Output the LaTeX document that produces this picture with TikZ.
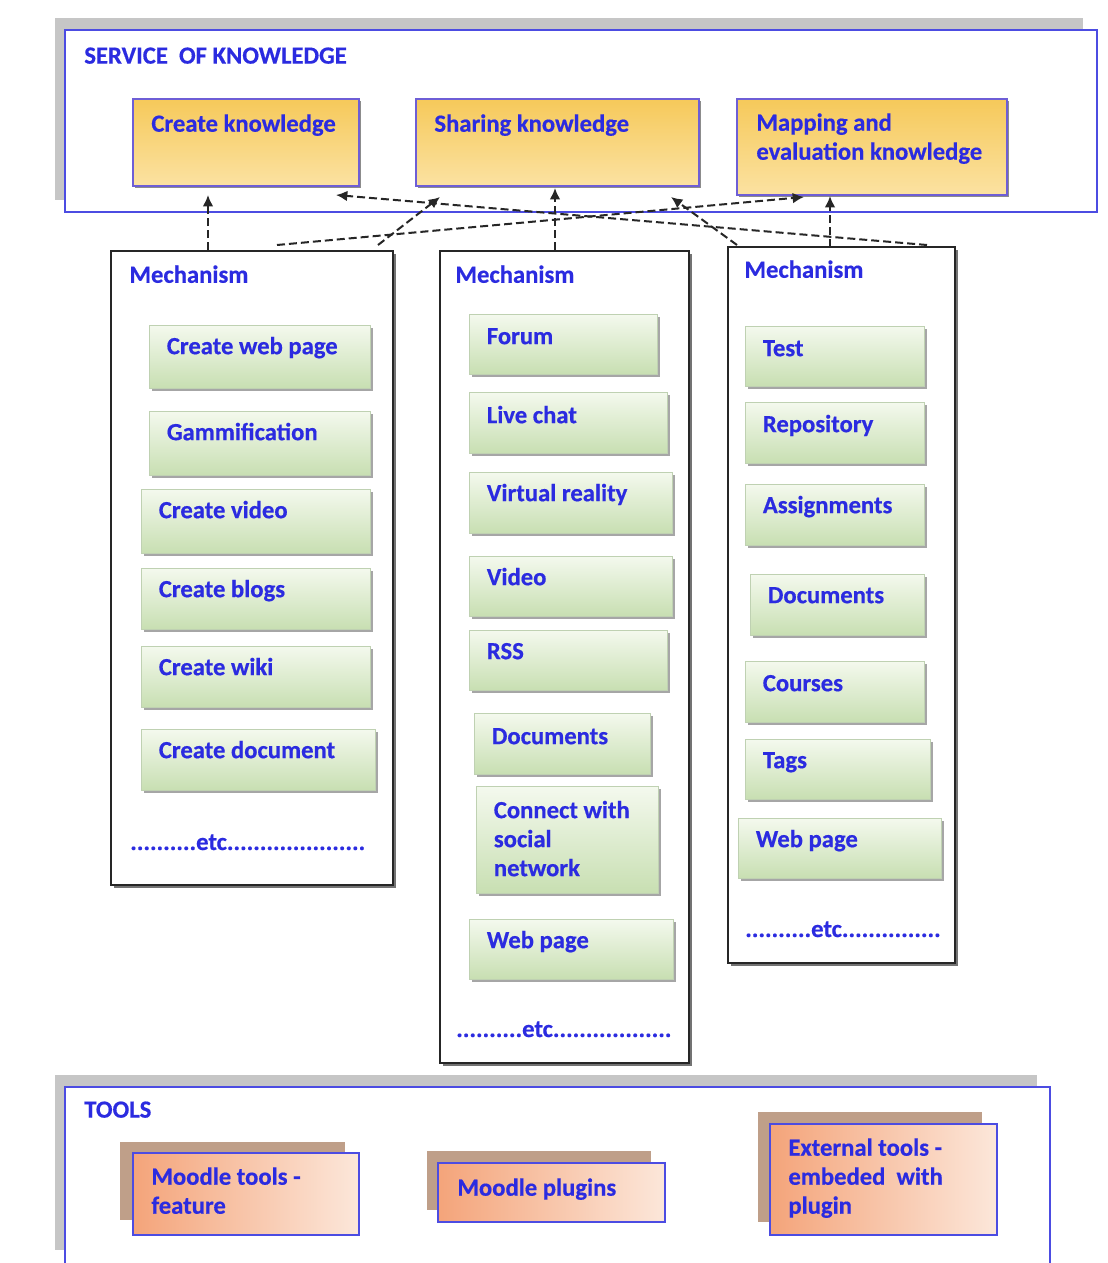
\documentclass[tikz,border=0pt]{standalone}
\usepackage{fontspec}
\setmainfont{Carlito}[BoldFeatures={FakeBold=0.5}]
\usetikzlibrary{arrows.meta,fit,calc}

\definecolor{txtblue}{HTML}{2B2BE0}
\definecolor{frameblue}{HTML}{4C4CE2}
\definecolor{ybord}{HTML}{6E5ED6}
\definecolor{panelgray}{HTML}{C6C6C6}
\definecolor{gold}{HTML}{F6C95A}
\definecolor{palegold}{HTML}{FFF6DA}
\definecolor{lowgold}{HTML}{FBE2A2}
\definecolor{greentop}{HTML}{F4F9EE}
\definecolor{greenbot}{HTML}{C8DFB2}
\definecolor{greenedge}{HTML}{BFD1B2}
\definecolor{orangeA}{HTML}{F4A47A}
\definecolor{orangeB}{HTML}{FCE7DA}
\definecolor{backbrown}{HTML}{BF9F89}
\definecolor{conncol}{HTML}{262626}

\newcommand{\labelfont}{\fontsize{18.5}{21.75}\selectfont\bfseries}

\tikzset{
  panelshade/.style={fill=panelgray, draw=none},
  panel/.style={draw=frameblue, line width=1.4pt, fill=white},
  ybox/.style={draw=ybord, line width=1.3pt, inner sep=0pt,
    top color=gold, middle color=palegold, bottom color=lowgold,
    preaction={fill=black!45, transform canvas={xshift=1.8pt,yshift=-1.8pt}}},
  mbox/.style={draw=black!85, line width=1.2pt, fill=white, inner sep=0pt,
    preaction={fill=black!55, transform canvas={xshift=2.2pt,yshift=-2.2pt}}},
  gbox/.style={draw=greenedge, line width=0.6pt, inner sep=0pt,
    top color=greentop, bottom color=greenbot,
    preaction={fill=black!35, transform canvas={xshift=2pt,yshift=-2pt}}},
  backbox/.style={fill=backbrown, draw=none, inner sep=0pt},
  obox/.style={draw=frameblue, line width=1.3pt, inner sep=0pt,
    left color=orangeA, middle color=orangeB!70!orangeA, right color=orangeB},
  itemtxt/.style={anchor=north west, inner sep=0pt, text=txtblue,
    font=\labelfont, align=left, execute at begin node=\strut},
  conn/.style={draw=conncol, line width=1.5pt, dash pattern=on 6pt off 3pt,
    -{Latex[length=8.5pt,width=8pt]}}
}

% green mechanism entry: [text drop], name, corners, label
\newcommand{\gitem}[7][9]{%
  \node[gbox, fit={(#3,#4)(#5,#6)}] (#2) {};
  \node[itemtxt] (#2t) at ($(#2.north west)+(18,#1)$) {#7};
}

\begin{document}
\begin{tikzpicture}[x=0.75pt,y=-0.75pt]
\useasboundingbox (0,0) rectangle (1107,1263);
\fill[white] (0,0) rectangle (1107,1263);

% ---------- service of knowledge panel ----------
\node[panelshade, inner sep=0pt, fit={(55,18)(1083,200)}] (svcshade) {};
\node[panel, inner sep=0pt, fit={(65,30)(1097,212)}] (svc) {};
\node[itemtxt] (svct) at ($(svc.north west)+(20,14)$) {SERVICE\ \ OF KNOWLEDGE};

\node[ybox, fit={(133,99)(359,186)}] (ck) {};
\node[itemtxt] (ckt) at ($(ck.north west)+(19,13)$) {Create knowledge};
\node[ybox, fit={(416,99)(699,186)}] (sk) {};
\node[itemtxt] (skt) at ($(sk.north west)+(19,13)$) {Sharing knowledge};
\node[ybox, fit={(737,99)(1007,195)}] (mk) {};
\node[itemtxt] (mkt) at ($(mk.north west)+(20,15)$) {Mapping and\\evaluation knowledge};

% ---------- mechanism columns ----------
\node[mbox, fit={(111,251)(393,885)}] (mechA) {};
\node[itemtxt] (mechAt) at ($(mechA.north west)+(19,12)$) {Mechanism};
\node[mbox, fit={(440,251)(689,1063)}] (mechB) {};
\node[itemtxt] (mechBt) at ($(mechB.north west)+(16,12)$) {Mechanism};
\node[mbox, fit={(728,247)(955,963)}] (mechC) {};
\node[itemtxt] (mechCt) at ($(mechC.north west)+(17,11)$) {Mechanism};

% create knowledge mechanisms
\gitem{gA1}{149}{325}{370}{388}{Create web page}
\gitem{gA2}{149}{411}{370}{475}{Gammification}
\gitem{gA3}{141}{489}{370}{553}{Create video}
\gitem{gA4}{141}{568}{370}{629}{Create blogs}
\gitem{gA5}{141}{646}{370}{707}{Create wiki}
\gitem{gA6}{141}{729}{375}{790}{Create document}
\node[itemtxt, anchor=base west] (etcA) at (130,850) {..........etc.....................};

% sharing knowledge mechanisms
\gitem[10]{gB1}{469}{314}{657}{374}{Forum}
\gitem[11]{gB2}{469}{392}{667}{453}{Live chat}
\gitem{gB3}{469}{472}{672}{533}{Virtual reality}
\gitem{gB4}{469}{556}{672}{616}{Video}
\gitem{gB5}{469}{630}{667}{690}{RSS}
\gitem[11]{gB6}{474}{713}{650}{774}{Documents}
\gitem[15]{gB7}{476}{786}{658}{893}{Connect with\\social\\network}
\gitem{gB8}{469}{919}{673}{979}{Web page}
\node[itemtxt, anchor=base west] (etcB) at (456,1037) {..........etc..................};

% mapping and evaluation mechanisms
\gitem[10]{gC1}{745}{326}{924}{386}{Test}
\gitem[10]{gC2}{745}{402}{924}{463}{Repository}
\gitem{gC3}{745}{484}{924}{545}{Assignments}
\gitem{gC4}{750}{574}{924}{635}{Documents}
\gitem[10]{gC5}{745}{661}{924}{722}{Courses}
\gitem{gC6}{745}{739}{930}{799}{Tags}
\gitem{gC7}{738}{818}{941}{878}{Web page}
\node[itemtxt, anchor=base west] (etcC) at (745,937) {..........etc...............};

% ---------- tools panel ----------
\node[panelshade, inner sep=0pt, fit={(55,1075)(1037,1250)}] (toolshade) {};
\node[panel, inner sep=0pt, fit={(65,1087)(1050,1280)}] (tools) {};
\node[itemtxt] (toolst) at ($(tools.north west)+(20,11)$) {TOOLS};

\node[backbox, fit={(120,1142)(345,1220)}] (tAback) {};
\node[obox, fit={(133,1153)(359,1235)}] (tA) {};
\node[itemtxt] (tAt) at ($(tA.north west)+(19,15)$) {Moodle tools -\\feature};
\node[backbox, fit={(427,1151)(651,1210)}] (tBback) {};
\node[obox, fit={(438,1163)(665,1222)}] (tB) {};
\node[itemtxt] (tBt) at ($(tB.north west)+(20,13)$) {Moodle plugins};
\node[backbox, fit={(758,1112)(982,1222)}] (tCback) {};
\node[obox, fit={(770,1124)(997,1235)}] (tC) {};
\node[itemtxt] (tCt) at ($(tC.north west)+(19,15)$) {External tools -\\embeded\ \ with\\plugin};

% ---------- connectors from mechanisms to services ----------
\coordinate (aFromA) at (208,250);
\coordinate (aToCK) at (208,195);
\coordinate (bFromB) at (555,250);
\coordinate (bToSK) at (555,188);
\coordinate (cFromC) at (830,247);
\coordinate (cToMK) at (830,196);
\coordinate (dFromA) at (277,245);
\coordinate (dToMK) at (804,197);
\coordinate (eFromA) at (378,245);
\coordinate (eToSK) at (440,197);
\coordinate (fFromC) at (927,245);
\coordinate (fToCK) at (336,195);
\coordinate (gFromC) at (737,245);
\coordinate (gToSK) at (671,197);

\draw[conn] (aFromA) -- (aToCK);
\draw[conn] (bFromB) -- (bToSK);
\draw[conn] (cFromC) -- (cToMK);
\draw[conn] (dFromA) -- (dToMK);
\draw[conn] (eFromA) -- (eToSK);
\draw[conn] (fFromC) -- (fToCK);
\draw[conn] (gFromC) -- (gToSK);
\end{tikzpicture}
\end{document}
